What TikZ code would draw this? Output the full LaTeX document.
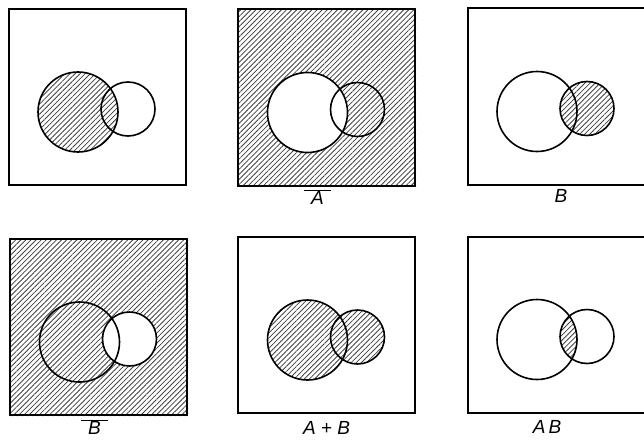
\documentclass[tikz,border=0pt]{standalone}
\usepackage{fontspec}
\setsansfont{Liberation Sans}
\usepackage{tikz}
\usetikzlibrary{positioning, calc, backgrounds, patterns.meta}

\begin{document}
\begin{tikzpicture}[
    x=1pt, y=-1pt,
    panel/.style={rectangle, draw, line width=2pt, minimum width=177pt, minimum height=176pt, inner sep=0pt},
    ring/.style={line width=1.6pt},
    hatch/.style={pattern={Lines[angle=45, distance=3.6pt, line width=0.8pt]}, pattern color=black!75},
    tag/.style={font=\fontsize{19}{19}\selectfont\sffamily\itshape, inner sep=1pt}
]
\useasboundingbox (0,0) rectangle (644,444);

% Panels
\node[panel] (p1) at (97,97) {};
\node[panel] (p2) at (326.5,97.5) {};
\node[panel] (p3) at (556,96.5) {};
\node[panel] (p4) at (98.5,327) {};
\node[panel] (p5) at (326.5,325) {};
\node[panel] (p6) at (556,324.5) {};

% Circle centres
\foreach \i in {1,...,6} {
    \coordinate (a\i) at ($(p\i.center)+(-19,15)$);
    \coordinate (b\i) at ($(p\i.center)+(31,12)$);
}

% Labels
\node[tag, below=2pt of p2.south, xshift=-9pt] (l2) {$\overline{\mbox{\hspace{7pt}A\hspace{7pt}}}$};
\node[tag, below=3pt of p3.south, xshift=5pt] (l3) {B};
\node[tag, below=2pt of p4.south, xshift=-4pt] (l4) {$\overline{\mbox{\hspace{7pt}B\hspace{7pt}}}$};
\node[tag, below=6pt of p5.south] (l5) {A + B};
\node[tag, below=6pt of p6.south, xshift=-9pt] (l6) {A\,B};

% Hatching
\begin{pgfonlayer}{background}
\fill[hatch] (a1) circle[radius=40pt];
\fill[hatch, even odd rule] (p2.south west) rectangle (p2.north east) (a2) circle[radius=40pt];
\fill[hatch] (b3) circle[radius=27pt];
\fill[hatch, even odd rule] (p4.south west) rectangle (p4.north east) (b4) circle[radius=27pt];
\fill[hatch] (a5) circle[radius=40pt] (b5) circle[radius=27pt];
\begin{scope}
    \clip (a6) circle[radius=40pt];
    \fill[hatch] (b6) circle[radius=27pt];
\end{scope}
\end{pgfonlayer}

% Circles
\foreach \i in {1,...,6} {
    \draw[ring] (a\i) circle[radius=40pt];
    \draw[ring] (b\i) circle[radius=27pt];
}

\end{tikzpicture}
\end{document}
